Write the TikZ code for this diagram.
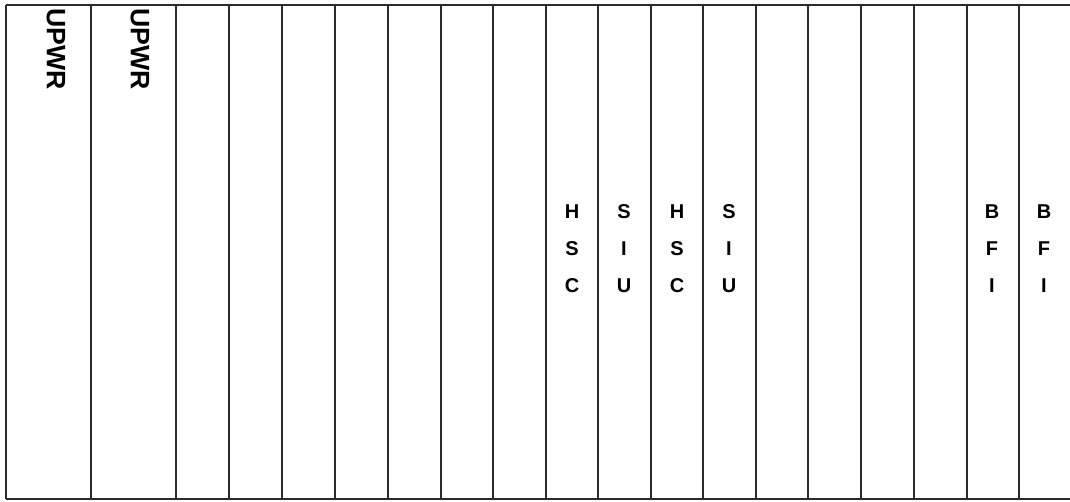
\documentclass[tikz,border=0pt]{standalone}
\usepackage{fontspec}
\setmainfont{Liberation Sans}
\usetikzlibrary{positioning}
\definecolor{rackline}{HTML}{2B2B2B}
\tikzset{
  slotline/.style={draw=rackline, line width=1.5pt},
  cardlabel/.style={font=\bfseries\fontsize{15}{27.75}\selectfont, align=center, inner sep=0pt, text=black},
  pwrlabel/.style={font=\bfseries\fontsize{20}{24}\selectfont, rotate=-90, inner sep=0pt, text=black},
}
\begin{document}
\begin{tikzpicture}[x=0.75pt, y=-0.75pt]
\useasboundingbox (0,0) rectangle (1070,501);
% shelf outline
\draw[slotline] (6,5) -- (1070,5);
\draw[slotline] (6,499) -- (1070,499);
\foreach \sx in {6,91,176,229,282,335,388,441,493,546,598,651,703,756,808,861,914,967,1019}
  \draw[slotline] (\sx,5) -- (\sx,499);
% power units
\node[pwrlabel] (pwrA) at (56,49) {UPWR};
\node[pwrlabel] (pwrB) at (140,49) {UPWR};
% cards
\node[cardlabel] (hscA) at (572,249) {H\\S\\C};
\node[cardlabel] (siuA) at (624,249) {S\\I\\U};
\node[cardlabel] (hscB) at (677,249) {H\\S\\C};
\node[cardlabel] (siuB) at (729,249) {S\\I\\U};
\node[cardlabel] (bfiA) at (992,249) {B\\F\\I};
\node[cardlabel] (bfiB) at (1044,249) {B\\F\\I};
\end{tikzpicture}
\end{document}
